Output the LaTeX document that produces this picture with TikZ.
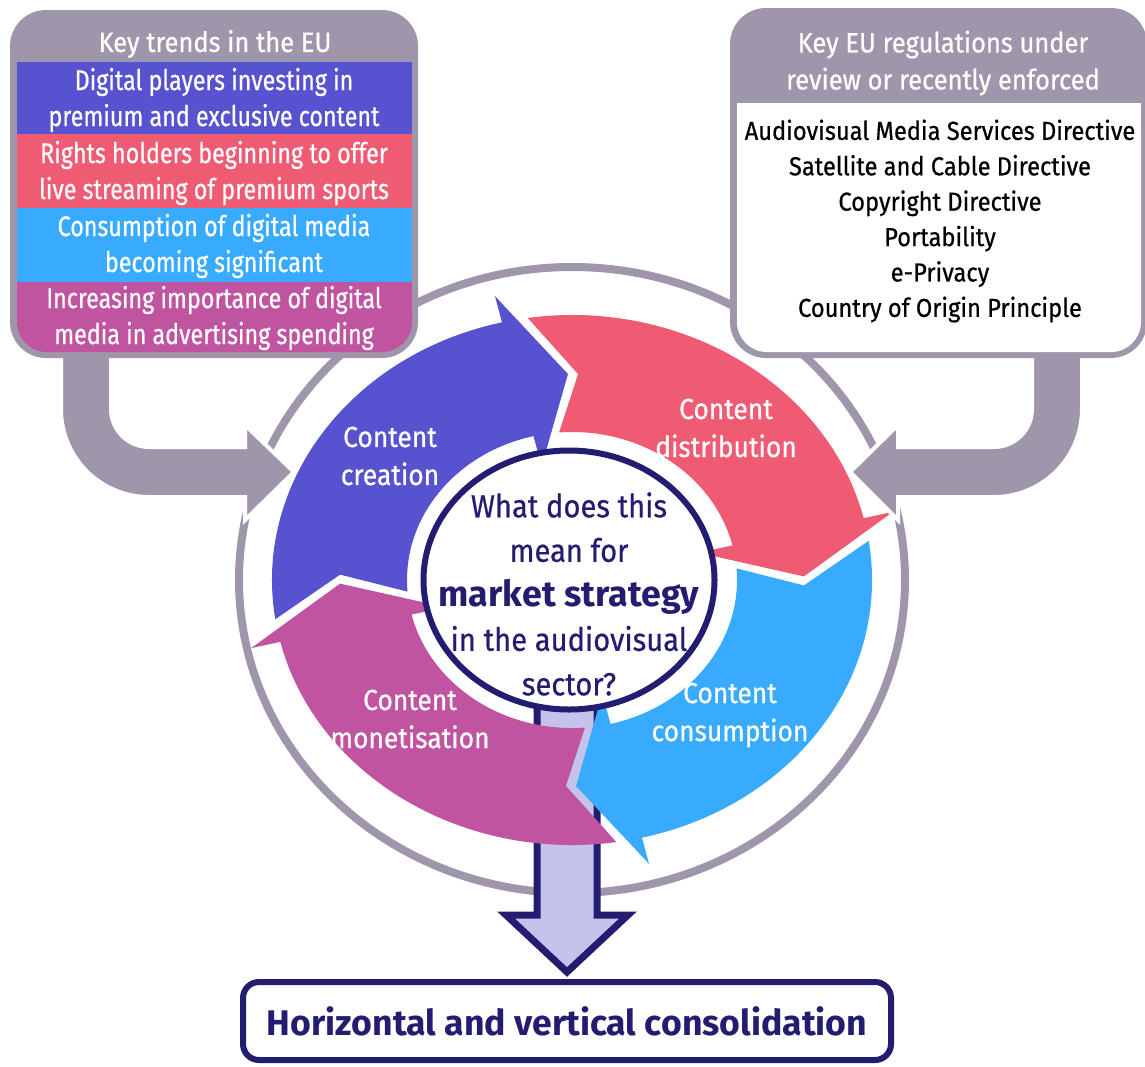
\documentclass[tikz,border=0pt]{standalone}
\usepackage{fontspec}
\setmainfont{Fira Sans}[FakeStretch=0.91, UprightFeatures={FakeBold=0.6}]
\newfontfamily\bandfont{Fira Sans}[FakeStretch=0.82, UprightFeatures={FakeBold=0.6}]
\newfontfamily\heavyfont{Fira Sans}[FakeStretch=1.0]
\usetikzlibrary{shapes.geometric,calc}
\definecolor{trendgray}{RGB}{160,150,172}
\definecolor{creablue}{RGB}{87,82,207}
\definecolor{distred}{RGB}{240,91,116}
\definecolor{consblue}{RGB}{56,171,254}
\definecolor{monmag}{RGB}{192,84,160}
\definecolor{hubnavy}{RGB}{34,29,112}
\definecolor{lav}{RGB}{197,195,235}
\tikzset{
  bandtxt/.style={text=white,align=center,font=\bandfont\fontsize{14.2}{18}\selectfont},
  headtxt/.style={text=white,align=center,font=\fontsize{14}{18.5}\selectfont},
  regtxt/.style={text=black,align=center,font=\fontsize{13}{17.7}\selectfont},
  cyctxt/.style={text=white,align=center,font=\fontsize{14.5}{19}\selectfont},
  hubtxt/.style={text=hubnavy,align=center,font=\fontsize{16}{22.25}\selectfont},
  bentarrow/.style={fill=trendgray,draw=white,line width=2pt},
}
\begin{document}
\begin{tikzpicture}[x=0.5pt,y=-0.5pt]
\useasboundingbox (0,0) rectangle (1145,1066);
% big ring behind everything
\draw[trendgray,line width=4pt] (572,580) ellipse [x radius=333, y radius=313];
% result box
\node[draw=hubnavy,line width=3pt,rounded corners=8pt,minimum width=324pt,minimum height=39pt,
  fill=white,text=hubnavy,font=\heavyfont\fontsize{17.8}{20}\selectfont\bfseries] (consol) at (567,1021)
  {Horizontal and vertical consolidation};
% block arrow down to the result
\draw[hubnavy,fill=lav,line width=3.5pt,line join=miter]
  ($(consol.north)+(-30,-279)$) -- ($(consol.north)+(-30,-64)$) -- ($(consol.north)+(-61,-64)$)
  -- ($(consol.north)+(0,-7)$) -- ($(consol.north)+(61,-64)$) -- ($(consol.north)+(30,-64)$)
  -- ($(consol.north)+(30,-279)$);
% cycle arrows
\begin{scope}[shift={(572,580)}]
\foreach \col/\s in {creablue/180, distred/270, consblue/360, monmag/450}{
  \fill[\col] ({\s-8.5}:300 and 265) arc[start angle={\s-8.5}, end angle={\s+76.5}, x radius=300, y radius=265]
    -- ({\s+76.5}:330 and 292) -- ({\s+89}:232 and 206) -- ({\s+76.5}:130 and 117)
    -- ({\s+76.5}:165 and 148) arc[start angle={\s+76.5}, end angle={\s-4.5}, x radius=165, y radius=148]
    -- ({\s+1.5}:232 and 206) -- cycle;
}
\end{scope}
\node[ellipse,draw=hubnavy,fill=white,line width=3pt,inner sep=0pt,
  minimum width=145.5pt,minimum height=129.5pt] (hub) at (569,580) {};
\node[hubtxt] (hubq) at (569,594) {What does this\\mean for\\{\heavyfont\bfseries\fontsize{17.9}{22.25}\selectfont market strategy}\\in the audiovisual\\sector?};
\node[cyctxt] (creation) at (390,456) {Content\\creation};
\node[cyctxt] (distrib) at (726,428) {Content\\distribution};
\node[cyctxt] (consum) at (730,715) {Content\\consumption};
\node[cyctxt] (monet) at (410,719) {Content\\monetisation};
% bent grey arrows into the cycle
\coordinate (trendsin) at (294,472);
\coordinate (regsin) at (850,472);
\draw[bentarrow] (61,350) -- (61,409) arc[start angle=180, end angle=90, radius=88] -- (245,497)
  -- (245,520) -- (trendsin) -- (245,425) -- (245,447) -- (149,447)
  arc[start angle=90, end angle=180, radius=38] -- (111,350) -- cycle;
\draw[bentarrow] (1082,350) -- (1082,409) arc[start angle=0, end angle=90, radius=88] -- (898,497)
  -- (898,520) -- (regsin) -- (898,425) -- (898,447) -- (994,447)
  arc[start angle=90, end angle=0, radius=38] -- (1032,350) -- cycle;
% key trends box
\fill[trendgray,rounded corners=18pt] (10,10) rectangle (418,358);
\fill[creablue] (17,62) rectangle (412,134);
\fill[distred] (17,134) rectangle (412,208);
\fill[consblue] (17,208) rectangle (412,282);
\fill[monmag,rounded corners=15pt] (17,282) rectangle (412,352);
\fill[monmag] (17,282) rectangle (412,320);
\node[headtxt] (trends) at (215,44) {Key trends in the EU};
\node[bandtxt] (trend1) at (214,100) {Digital players investing in\\premium and exclusive content};
\node[bandtxt] (trend2) at (214,173) {Rights holders beginning to offer\\live streaming of premium sports};
\node[bandtxt] (trend3) at (214,246) {Consumption of digital media\\becoming significant};
\node[bandtxt] (trend4) at (214,318) {Increasing importance of digital\\media in advertising spending};
% regulations box
\fill[trendgray,rounded corners=18pt] (730,8) rectangle (1147,358);
\fill[white,rounded corners=15pt] (737,103) rectangle (1141,352);
\fill[white] (737,103) rectangle (1141,200);
\node[headtxt] (regs) at (943,63) {Key EU regulations under\\review or recently enforced};
\node[regtxt] (reglist) at (940,221) {Audiovisual Media Services Directive\\Satellite and Cable Directive\\Copyright Directive\\Portability\\e-Privacy\\Country of Origin Principle};
\end{tikzpicture}
\end{document}
